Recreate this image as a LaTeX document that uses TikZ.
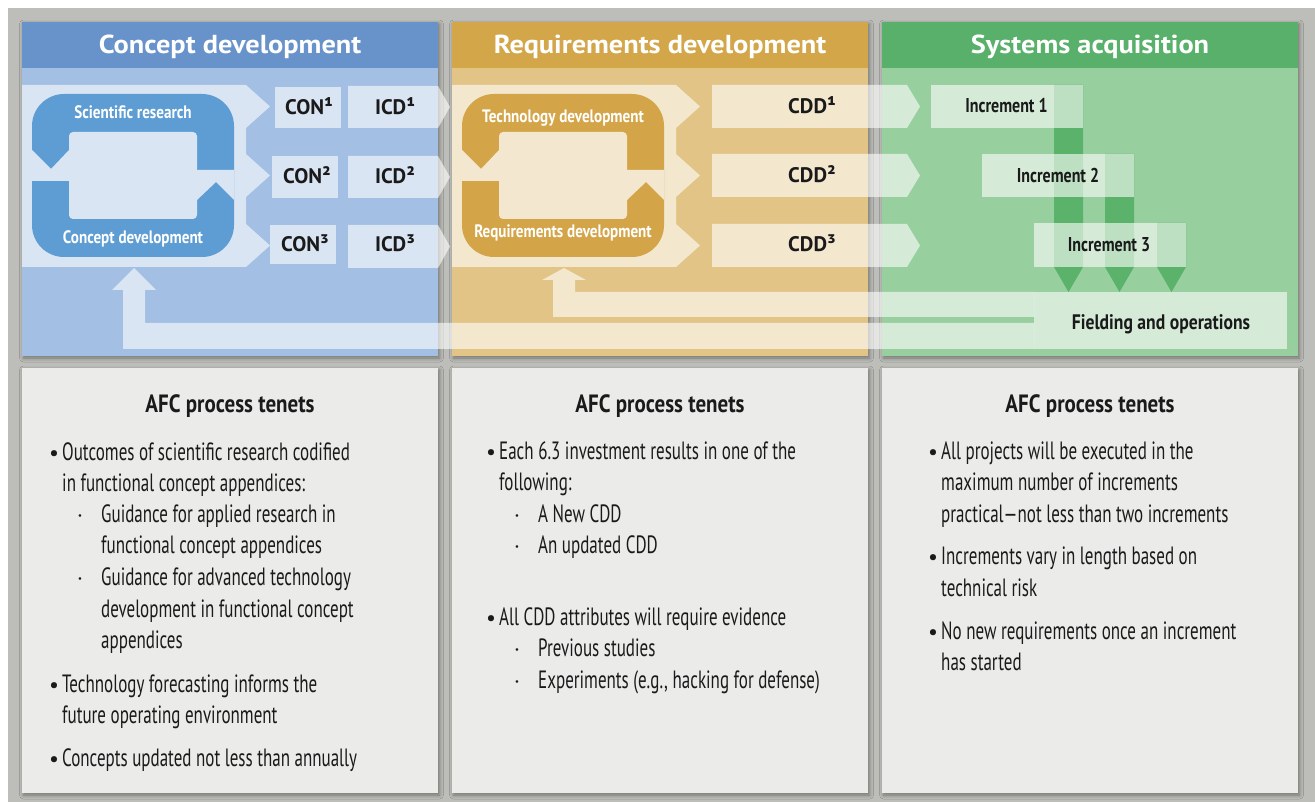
\documentclass[tikz,border=0pt]{standalone}
\usepackage{fontspec}
\usetikzlibrary{shadows.blur}
\setmainfont{PT Sans}
\newfontfamily\hdf{PT Sans}[FakeStretch=1.09]
\newfontfamily\lbf{PT Sans}
\newfontfamily\cbf{PT Sans}[FakeStretch=0.8]
\newfontfamily\cbfb{PT Sans}[FakeStretch=0.84]
\newfontfamily\bdf{PT Sans}[FakeStretch=0.68]

\definecolor{bggray}{HTML}{BDBEB9}
\definecolor{bluehd}{HTML}{6892CA}
\definecolor{bluebd}{HTML}{A3BFE3}
\definecolor{bluering}{HTML}{5E9DD3}
\definecolor{goldhd}{HTML}{D4A64A}
\definecolor{goldbd}{HTML}{E2C486}
\definecolor{goldring}{HTML}{D4A548}
\definecolor{greenhd}{HTML}{58B06A}
\definecolor{greenbd}{HTML}{97CF9F}
\definecolor{greenbar}{HTML}{5AB26B}
\definecolor{tenet}{HTML}{EBEBE9}
\definecolor{ink}{HTML}{1A1A1A}
\colorlet{bluepale}{white!60!bluebd}
\colorlet{goldpale}{white!60!goldbd}

\tikzset{
  panelshadow/.style={blur shadow={shadow xshift=1.5pt, shadow yshift=-2pt, shadow blur radius=4pt, shadow opacity=40}},
  veil/.style={fill=white, fill opacity=0.6},
  hdtext/.style={text=white, font=\hdf\bfseries\fontsize{26}{26}\selectfont, inner sep=0pt, anchor=base},
  lbl/.style={text=ink, font=\lbf\bfseries\fontsize{21}{21}\selectfont, inner sep=0pt, anchor=base},
  cond/.style={text=ink, font=\cbf\bfseries\fontsize{20}{20}\selectfont, inner sep=0pt, anchor=base},
  condb/.style={text=ink, font=\cbfb\bfseries\fontsize{21}{21}\selectfont, inner sep=0pt, anchor=base},
  ringtext/.style={text=white, font=\cbfb\bfseries\fontsize{18}{18}\selectfont, inner sep=0pt, anchor=base},
  tenettitle/.style={text=ink, font=\cbfb\bfseries\fontsize{25}{25}\selectfont, inner sep=0pt, anchor=base},
  body/.style={text=ink, font=\bdf\fontsize{25}{25}\selectfont, inner sep=0pt, anchor=base west},
  bul/.style={text=ink, font=\lbf\fontsize{22}{22}\selectfont, inner sep=0pt, anchor=base west},
}
\newcommand\bline[4]{\node[body] (#1) at (#2,#3) {#4};}
\newcommand\bdot[3]{\node[bul] (#1) at (#2,#3) {•};}
\newcommand\sdot[3]{\node[bul] (#1) at (#2,#3) {·};}
\newcommand\cyclering[2]{%
  \fill[#1, rounded corners=32pt] (32,94) rectangle (234,257);
  \fill[#2, rounded corners=4pt] (69,132) rectangle (197,219);
  \fill[#2] (32,150) -- (51,169) -- (69,150) -- (69,181) -- (32,181) -- cycle;
  \fill[#2] (197,170) -- (234,170) -- (234,200) -- (216,182) -- (197,200) -- cycle;
}
\newcommand\bigpale{%
  \fill[veil] (22,85) -- (246,85) -- (270,106.5) -- (246,128) -- (246,154) -- (270,175.5) -- (246,197)
    -- (246,224) -- (270,245.5) -- (246,267) -- (22,267) -- cycle;
}

\begin{document}
\begin{tikzpicture}[x=1pt,y=-1pt]
\useasboundingbox (0,0) rectangle (1315,802);
\fill[white] (0,0) rectangle (1315,802);
\fill[bggray] (8,8) rectangle (1315,802);

% ---------- top panels
\fill[bluebd, panelshadow] (22,22) rectangle (438,356);
\fill[bluehd] (22,22) rectangle (438,68);
\fill[goldbd, panelshadow] (452,22) rectangle (868,356);
\fill[goldhd] (452,22) rectangle (868,68);
\fill[greenbd, panelshadow] (882,22) rectangle (1298,356);
\fill[greenhd] (882,22) rectangle (1298,68);

% ---------- bottom panels
\fill[tenet, panelshadow] (22,368) rectangle (438,793);
\fill[tenet, panelshadow] (452,368) rectangle (868,793);
\fill[tenet, panelshadow] (882,368) rectangle (1298,793);

% ---------- headers
\node[hdtext] (hd1) at (230,54) {Concept development};
\node[hdtext] (hd2) at (660,54) {Requirements development};
\node[hdtext] (hd3) at (1090,54) {Systems acquisition};

% ---------- big pale areas with cycles
\bigpale
\cyclering{bluering}{bluepale}
\begin{scope}[xshift=430]
\bigpale
\cyclering{goldring}{goldpale}
\end{scope}
\node[ringtext] (sr) at (133,119) {Scientific research};
\node[ringtext] (cd) at (133,244) {Concept development};
\node[ringtext] (td) at (563,123) {Technology development};
\node[ringtext] (rd) at (563,238) {Requirements development};

% ---------- CON boxes
\fill[veil] (275,87) rectangle (341,128);
\fill[veil] (272,156) rectangle (338,198);
\fill[veil] (270,225) rectangle (336,264);
% ---------- ICD arrows
\fill[veil] (348,86) -- (438,86) -- (450,107) -- (438,128) -- (348,128) -- cycle;
\fill[veil] (348,156) -- (438,156) -- (450,177) -- (438,198) -- (348,198) -- cycle;
\fill[veil] (348,225) -- (438,225) -- (450,246.5) -- (438,268) -- (348,268) -- cycle;
% ---------- CDD arrows
\fill[veil] (712,85) -- (907,85) -- (920,106.5) -- (907,128) -- (712,128) -- cycle;
\fill[veil] (712,154) -- (907,154) -- (920,175.5) -- (907,197) -- (712,197) -- cycle;
\fill[veil] (712,224) -- (907,224) -- (920,245.5) -- (907,267) -- (712,267) -- cycle;

% ---------- increment bars
\fill[greenbar] (1054,85) -- (1083,85) -- (1083,267) -- (1068.5,292) -- (1054,267) -- cycle;
\fill[greenbar] (1105,154) -- (1134,154) -- (1134,267) -- (1119.5,292) -- (1105,267) -- cycle;
\fill[greenbar] (1157,223) -- (1186,223) -- (1186,267) -- (1171.5,292) -- (1157,267) -- cycle;
% ---------- increment boxes
\fill[veil] (931,85) rectangle (1083,128);
\fill[veil] (982,154) rectangle (1134,197);
\fill[veil] (1034,223) rectangle (1186,267);

% ---------- feedback arrows and fielding box
\fill[veil] (134,268) -- (156,290) -- (145,290) -- (145,323) -- (1034,323) -- (1034,349)
   -- (123,349) -- (123,290) -- (112,290) -- cycle;
\fill[veil] (564,268) -- (586,280) -- (575,280) -- (575,292) -- (1034,292) -- (1034,317)
   -- (553,317) -- (553,280) -- (542,280) -- cycle;
\fill[veil] (1034,292) rectangle (1287,349);

% ---------- labels
\node[lbl, anchor=base west] (con1) at (285,115) {CON¹};
\node[lbl, anchor=base west] (con2) at (283,184) {CON²};
\node[lbl, anchor=base west] (con3) at (281,252) {CON³};
\node[lbl] (icd1) at (395,115) {ICD¹};
\node[lbl] (icd2) at (395,184) {ICD²};
\node[lbl] (icd3) at (395,252) {ICD³};
\node[lbl] (cdd1) at (812,114) {CDD¹};
\node[lbl] (cdd2) at (812,183) {CDD²};
\node[lbl] (cdd3) at (812,252) {CDD³};
\node[cond] (inc1) at (1006.5,113) {Increment 1};
\node[cond] (inc2) at (1058,183) {Increment 2};
\node[cond] (inc3) at (1109,252) {Increment 3};
\node[condb] (field) at (1161,330) {Fielding and operations};

% ---------- tenets
\node[tenettitle] (tt1) at (230,412) {AFC process tenets};
\node[tenettitle] (tt2) at (660,412) {AFC process tenets};
\node[tenettitle] (tt3) at (1090,412) {AFC process tenets};

% left column
\bdot{la0}{49}{460}
\bline{la1}{62}{460}{Outcomes of scientific research codified}
\bline{la2}{62}{491}{in functional concept appendices:}
\sdot{la3}{77}{522}
\bline{la4}{101}{522}{Guidance for applied research in}
\bline{la5}{101}{553}{functional concept appendices}
\sdot{la6}{77}{585}
\bline{la7}{101}{585}{Guidance for advanced technology}
\bline{la8}{101}{617}{development in functional concept}
\bline{la9}{101}{648}{appendices}
\bdot{lb0}{49}{692}
\bline{lb1}{62}{692}{Technology forecasting informs the}
\bline{lb2}{62}{723}{future operating environment}
\bdot{lc0}{49}{766}
\bline{lc1}{62}{766}{Concepts updated not less than annually}

% middle column
\bdot{ma0}{486}{459}
\bline{ma1}{499}{459}{Each 6.3 investment results in one of the}
\bline{ma2}{499}{490}{following:}
\sdot{ma3}{514}{522}
\bline{ma4}{538}{522}{A New CDD}
\sdot{ma5}{514}{553}
\bline{ma6}{538}{553}{An updated CDD}
\bdot{mb0}{486}{625}
\bline{mb1}{499}{625}{All CDD attributes will require evidence}
\sdot{mb2}{514}{656}
\bline{mb3}{538}{656}{Previous studies}
\sdot{mb4}{514}{688}
\bline{mb5}{538}{688}{Experiments (e.g., hacking for defense)}

% right column
\bdot{ra0}{928}{459}
\bline{ra1}{941}{459}{All projects will be executed in the}
\bline{ra2}{941}{490}{maximum number of increments}
\bline{ra3}{941}{522}{practical—not less than two increments}
\bdot{rb0}{928}{564}
\bline{rb1}{941}{564}{Increments vary in length based on}
\bline{rb2}{941}{596}{technical risk}
\bdot{rc0}{928}{639}
\bline{rc1}{941}{639}{No new requirements once an increment}
\bline{rc2}{941}{670}{has started}
\end{tikzpicture}
\end{document}
